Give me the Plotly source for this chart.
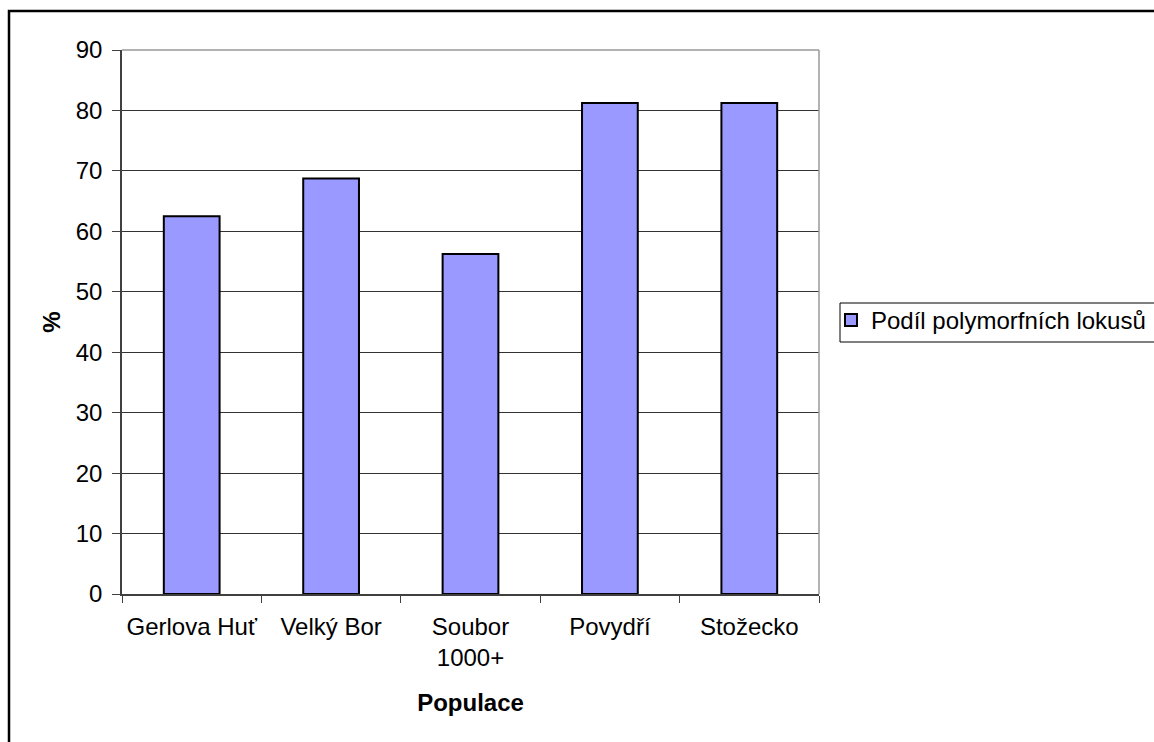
import plotly.graph_objects as go

# Share of polymorphic loci per population (%)
populations = ["Gerlova Huť", "Velký Bor", "Soubor<br>1000+", "Povydří", "Stožecko"]
polymorphic_share = [62.5, 68.75, 56.25, 81.25, 81.25]
series_name = "Podíl polymorfních lokusů"
y_ticks = [0, 10, 20, 30, 40, 50, 60, 70, 80, 90]

FONT = "Liberation Sans, Arial, sans-serif"
FS = 24
W, H = 1154, 742
L, R, T, B = 122, 335, 50, 148
pw, ph = W - L - R, H - T - B


def px_x(p):
    return (p - L) / pw


def px_y(p):
    return (H - B - p) / ph


fig = go.Figure()
fig.add_trace(go.Bar(
    x=populations,
    y=polymorphic_share,
    name=series_name,
    width=0.4,
    marker=dict(color="#9999FF", line=dict(color="#000000", width=2)),
    showlegend=True,
))

fig.update_layout(
    width=W, height=H,
    margin=dict(l=L, r=R, t=T, b=B, autoexpand=False),
    paper_bgcolor="white",
    plot_bgcolor="white",
    font=dict(family=FONT, size=FS, color="#000000"),
    bargap=0.6,
    showlegend=True,
    legend=dict(
        x=px_x(831), y=px_y(298), xanchor="left", yanchor="top",
        borderwidth=0, bgcolor="rgba(0,0,0,0)",
        font=dict(family=FONT, size=FS),
        itemwidth=30,
    ),
    xaxis=dict(
        type="category",
        automargin=False,
        tickangle=0,
        tickson="boundaries",
        ticks="outside", ticklen=7, tickcolor="#404040",
        showline=True, linecolor="#404040", linewidth=1.5,
        showgrid=False,
        ticklabelstandoff=10,
        title=dict(text="<b>Populace</b>", font=dict(family=FONT, size=FS), standoff=24),
        tickfont=dict(family=FONT, size=FS),
    ),
    yaxis=dict(
        range=[0, 90],
        automargin=False,
        tickvals=y_ticks,
        ticks="outside", ticklen=8, tickcolor="#404040",
        showline=True, linecolor="#404040", linewidth=1.5,
        showgrid=True, gridcolor="#333333", gridwidth=1,
        zeroline=False,
        ticklabelstandoff=5,
        title=dict(text="<b>%</b>", font=dict(family=FONT, size=FS), standoff=8),
        tickfont=dict(family=FONT, size=FS),
    ),
    shapes=[
        # plot area border (top and right)
        dict(type="line", xref="paper", yref="paper", x0=0, x1=1, y0=1, y1=1,
             line=dict(color="#999999", width=1.5), layer="above"),
        dict(type="line", xref="paper", yref="paper", x0=1, x1=1, y0=0, y1=1,
             line=dict(color="#999999", width=1.5), layer="above"),
        # legend frame
        dict(type="rect", xref="paper", yref="paper",
             x0=px_x(840), x1=px_x(1170), y0=px_y(342), y1=px_y(303),
             line=dict(color="#000000", width=1), layer="below"),
        # outer chart frame
        dict(type="rect", xref="paper", yref="paper",
             x0=px_x(9), x1=px_x(1170), y0=px_y(760), y1=px_y(11),
             line=dict(color="#000000", width=2.5), layer="below"),
    ],
)

fig.write_html("out.html")
